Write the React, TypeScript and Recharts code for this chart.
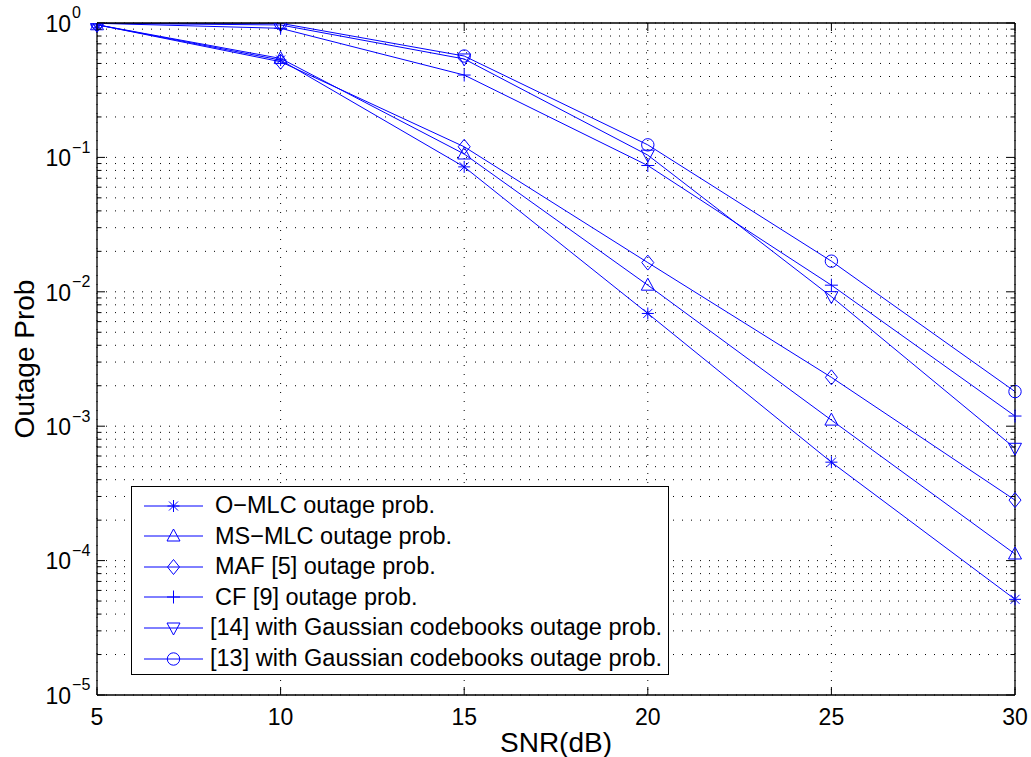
import React from "react";
import { LineChart, Line, XAxis, YAxis, CartesianGrid, Legend, Label } from "recharts";

// SNR points (dB)
const snr = [5, 10, 15, 20, 25, 30];

// outage probabilities
const oMlc = [0.97, 0.53, 0.085, 0.0069, 0.00054, 0.0000515];
const msMlc = [0.97, 0.545, 0.106, 0.0112, 0.00111, 0.000112];
const maf = [0.97, 0.515, 0.12, 0.0165, 0.00231, 0.000282];
const cf = [0.995, 0.913, 0.41, 0.087, 0.0112, 0.00119];
const gauss14 = [0.995, 0.967, 0.54, 0.104, 0.0092, 0.000685];
const gauss13 = [0.995, 0.995, 0.568, 0.124, 0.0169, 0.00181];

const xTicks = [5, 10, 15, 20, 25, 30];
const decades = [-5, -4, -3, -2, -1];
const mantissas = [1, 2, 3, 4, 5, 6, 7, 8, 9];
const yTicks = [...decades.flatMap((d) => mantissas.map((m) => m * Math.pow(10, d))), 1];

const FONT = "'Liberation Sans', Arial, Helvetica, sans-serif";
const BLUE = "#0000ff";

type Shape = "star" | "up" | "diamond" | "plus" | "down" | "circle";

const series: { key: string; name: string; shape: Shape; values: number[] }[] = [
  { key: "oMlc", name: "O\u2212MLC outage prob.", shape: "star", values: oMlc },
  { key: "msMlc", name: "MS\u2212MLC outage prob.", shape: "up", values: msMlc },
  { key: "maf", name: "MAF [5] outage prob.", shape: "diamond", values: maf },
  { key: "cf", name: "CF [9] outage prob.", shape: "plus", values: cf },
  { key: "g14", name: "[14] with Gaussian codebooks outage prob.", shape: "down", values: gauss14 },
  { key: "g13", name: "[13] with Gaussian codebooks outage prob.", shape: "circle", values: gauss13 },
];

const data = snr.map((s, i) => {
  const row: Record<string, number> = { snr: s };
  series.forEach((sr) => {
    row[sr.key] = sr.values[i];
  });
  return row;
});

function Marker({ shape, cx, cy }: { shape: Shape; cx: number; cy: number }) {
  const p = { stroke: BLUE, strokeWidth: 1, fill: "none" };
  switch (shape) {
    case "star":
      return (
        <g {...p}>
          <line x1={cx - 6} y1={cy} x2={cx + 6} y2={cy} />
          <line x1={cx} y1={cy - 6} x2={cx} y2={cy + 6} />
          <line x1={cx - 4.5} y1={cy - 4.5} x2={cx + 4.5} y2={cy + 4.5} />
          <line x1={cx - 4.5} y1={cy + 4.5} x2={cx + 4.5} y2={cy - 4.5} />
        </g>
      );
    case "up":
      return <polygon {...p} points={`${cx},${cy - 7} ${cx + 6.5},${cy + 5} ${cx - 6.5},${cy + 5}`} />;
    case "down":
      return <polygon {...p} points={`${cx - 6.5},${cy - 5} ${cx + 6.5},${cy - 5} ${cx},${cy + 7}`} />;
    case "diamond":
      return <polygon {...p} points={`${cx},${cy - 7.5} ${cx + 6},${cy} ${cx},${cy + 7.5} ${cx - 6},${cy}`} />;
    case "plus":
      return (
        <g {...p}>
          <line x1={cx - 6.5} y1={cy} x2={cx + 6.5} y2={cy} />
          <line x1={cx} y1={cy - 6.5} x2={cx} y2={cy + 6.5} />
        </g>
      );
    default:
      return <circle {...p} cx={cx} cy={cy} r={6.2} />;
  }
}

const renderDot = (shape: Shape) => (props: any) => (
  <Marker key={`${shape}-${props.index}`} shape={shape} cx={props.cx} cy={props.cy} />
);

const isMajor = (v: number) => {
  const l = Math.log10(v);
  return Math.abs(l - Math.round(l)) < 1e-9;
};

const LeftTick = (props: any) => {
  const { x, y, payload } = props;
  const v = payload.value as number;
  const major = isMajor(v);
  const exp = Math.round(Math.log10(v));
  return (
    <g>
      <line x1={x} y1={y} x2={x + (major ? 8 : 4.5)} y2={y} stroke="#000" strokeWidth={1} />
      {major && (
        <text x={x - 51.5} y={y + 8.7} fontFamily={FONT} fontSize={23} fill="#000">
          10
          <tspan dx={1} dy={-13.4} fontSize={16}>
            {exp === 0 ? "0" : `\u2212${Math.abs(exp)}`}
          </tspan>
        </text>
      )}
    </g>
  );
};

const RightTick = (props: any) => {
  const { x, y, payload } = props;
  const major = isMajor(payload.value);
  return <line x1={x} y1={y} x2={x - (major ? 8 : 4.5)} y2={y} stroke="#000" strokeWidth={1} />;
};

const BottomTick = (props: any) => {
  const { x, y, payload } = props;
  return (
    <g>
      <line x1={x} y1={y} x2={x} y2={y - 8} stroke="#000" strokeWidth={1} />
      <text x={x} y={y + 30} textAnchor="middle" fontFamily={FONT} fontSize={23} fill="#000">
        {payload.value}
      </text>
    </g>
  );
};

const TopTick = (props: any) => {
  const { x, y } = props;
  return <line x1={x} y1={y} x2={x} y2={y + 8} stroke="#000" strokeWidth={1} />;
};

const XTitle = (props: any) => {
  const vb = props.viewBox;
  return (
    <text x={vb.x + vb.width / 2} y={vb.y + 57} textAnchor="middle" fontFamily={FONT} fontSize={28} fill="#000">
      SNR(dB)
    </text>
  );
};

const YTitle = (props: any) => {
  const vb = props.viewBox;
  const x = vb.x + 16.5;
  const y = vb.y + vb.height / 2;
  return (
    <text
      x={x}
      y={y}
      transform={`rotate(-90, ${x}, ${y})`}
      textAnchor="middle"
      fontFamily={FONT}
      fontSize={28}
      fill="#000"
    >
      Outage Prob
    </text>
  );
};

const LegendBox = () => (
  <div
    style={{
      width: 538,
      height: 189,
      boxSizing: "border-box",
      border: "1px solid #000",
      background: "#fff",
      position: "relative",
      fontFamily: FONT,
      fontSize: 23.5,
      color: "#000",
    }}
  >
    {series.map((s, i) => (
      <div
        key={s.key}
        style={{
          position: "absolute",
          left: 0,
          top: 18.5 + i * 30.6 - 15,
          height: 30,
          display: "flex",
          alignItems: "center",
          whiteSpace: "nowrap",
        }}
      >
        <svg width={80} height={30} style={{ display: "block" }}>
          <line x1={12} y1={15} x2={71} y2={15} stroke={BLUE} strokeWidth={1} />
          <Marker shape={s.shape} cx={41.5} cy={15} />
        </svg>
        <span style={{ marginLeft: i < 4 ? 3 : -2 }}>{s.name}</span>
      </div>
    ))}
  </div>
);

export default function App() {
  return (
    <div style={{ position: "absolute", left: 0, top: 0, background: "#fff" }}>
      <LineChart width={1031} height={757} data={data} margin={{ top: 22, right: 15, bottom: 2, left: 17 }}>
        <CartesianGrid yAxisId="left" stroke="#000" strokeWidth={1} strokeDasharray="1 8" />
        <XAxis
          dataKey="snr"
          type="number"
          domain={[5, 30]}
          ticks={xTicks}
          interval={0}
          height={60}
          tickSize={0}
          tickMargin={0}
          tickLine={false}
          axisLine={{ stroke: "#000", strokeWidth: 1.3 }}
          tick={<BottomTick />}
        >
          <Label content={<XTitle />} />
        </XAxis>
        <XAxis
          xAxisId="top"
          orientation="top"
          dataKey="snr"
          type="number"
          domain={[5, 30]}
          ticks={xTicks}
          interval={0}
          height={1}
          tickSize={0}
          tickMargin={0}
          tickLine={false}
          axisLine={{ stroke: "#000", strokeWidth: 1.3 }}
          tick={<TopTick />}
        />
        <YAxis
          yAxisId="left"
          scale="log"
          type="number"
          domain={[1e-5, 1]}
          allowDataOverflow
          ticks={yTicks}
          interval={0}
          width={80}
          tickSize={0}
          tickMargin={0}
          tickLine={false}
          axisLine={{ stroke: "#000", strokeWidth: 1.3 }}
          tick={<LeftTick />}
        >
          <Label content={<YTitle />} />
        </YAxis>
        <YAxis
          yAxisId="right"
          orientation="right"
          scale="log"
          type="number"
          domain={[1e-5, 1]}
          allowDataOverflow
          ticks={yTicks}
          interval={0}
          width={1}
          tickSize={0}
          tickMargin={0}
          tickLine={false}
          axisLine={{ stroke: "#000", strokeWidth: 1.3 }}
          tick={<RightTick />}
        />
        {series.map((s) => (
          <Line
            key={s.key}
            yAxisId="left"
            type="linear"
            dataKey={s.key}
            name={s.name}
            stroke={BLUE}
            strokeWidth={1}
            dot={renderDot(s.shape)}
            activeDot={false}
            isAnimationActive={false}
          />
        ))}
        <Legend
          layout="vertical"
          align="center"
          verticalAlign="middle"
          content={<LegendBox />}
          wrapperStyle={{ left: 131, top: 486, width: 538, height: 189 }}
        />
      </LineChart>
    </div>
  );
}
